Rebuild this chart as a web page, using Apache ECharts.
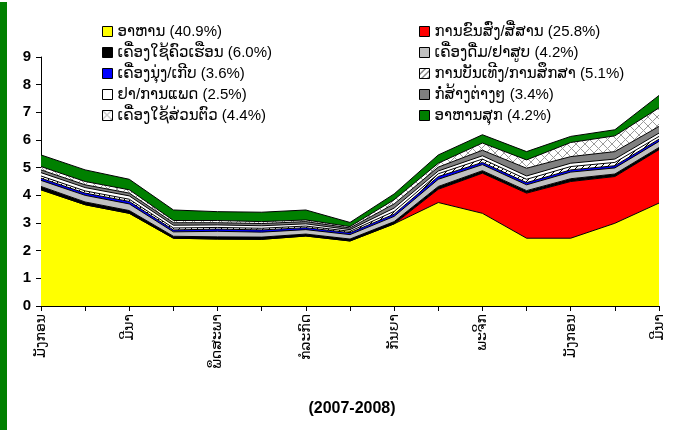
<!DOCTYPE html>
<html>
<head>
<meta charset="utf-8">
<script src="https://cdn.jsdelivr.net/npm/echarts@6/dist/echarts.min.js"></script>
<style>
html,body{margin:0;padding:0;background:#fff;}
#c{width:691px;height:433px;}
</style>
</head>
<body>
<div id="c"></div>
<script>
const months = ['ມັງກອນ','ກຸມພາ','ມີນາ','ເມສາ','ພຶດສະພາ','ມິຖຸນາ','ກໍລະກົດ','ສິງຫາ','ກັນຍາ','ຕຸລາ','ພະຈິກ','ທັນວາ','ມັງກອນ','ກຸມພາ','ມີນາ'];
const seriesNames = ['ອາຫານ (40.9%)','ການຂົນສົ່ງ/ສື່ສານ (25.8%)','ເຄື່ອງໃຊ້ຄົວເຮືອນ (6.0%)','ເຄື່ອງດື່ມ/ຢາສູບ (4.2%)','ເຄື່ອງນຸ່ງ/ເກີບ (3.6%)','ການບັນເທີງ/ການສຶກສາ (5.1%)','ຢາ/ການແພດ (2.5%)','ກໍ່ສ້າງຕ່າງໆ (3.4%)','ເຄື່ອງໃຊ້ສ່ວນຕົວ (4.4%)','ອາຫານສຸກ (4.2%)'];
const food          = [4.20,3.66,3.35,2.45,2.42,2.41,2.53,2.35,2.97,3.74,3.35,2.45,2.45,2.99,3.72];
const transport     = [0,0,0,0,0,0,0,0,0,0.48,1.45,1.63,2.05,1.69,1.93];
const household     = [0.12,0.10,0.10,0.07,0.08,0.08,0.07,0.07,0.08,0.10,0.09,0.09,0.10,0.09,0.08];
const drinks        = [0.22,0.24,0.24,0.16,0.20,0.18,0.16,0.16,0.19,0.26,0.22,0.21,0.24,0.22,0.22];
const clothes       = [0.08,0.08,0.09,0.07,0.08,0.08,0.07,0.07,0.08,0.10,0.08,0.08,0.08,0.08,0.08];
const entertainment = [0.08,0.08,0.08,0.07,0.06,0.06,0.06,0.05,0.10,0.10,0.12,0.12,0.12,0.12,0.10];
const medical       = [0.12,0.12,0.12,0.10,0.09,0.09,0.08,0.06,0.12,0.10,0.12,0.12,0.12,0.12,0.12];
const construction  = [0.10,0.10,0.10,0.09,0.08,0.08,0.08,0.06,0.15,0.14,0.20,0.28,0.24,0.27,0.24];
const personal      = [0.12,0.12,0.12,0.08,0.08,0.07,0.06,0.05,0.15,0.14,0.26,0.30,0.51,0.57,0.67];
const cooked        = [0.42,0.42,0.38,0.38,0.32,0.34,0.36,0.15,0.21,0.30,0.30,0.30,0.22,0.22,0.45];
const yTicks = [0,1,2,3,4,5,6,7,8,9];
const title = '(2007-2008)';

const allData = [food,transport,household,drinks,clothes,entertainment,medical,construction,personal,cooked];

function makePattern(kind){
  const c = document.createElement('canvas');
  const s = kind === 'cross' ? 9 : 6;
  c.width = s; c.height = s;
  const g = c.getContext('2d');
  g.fillStyle = '#ffffff'; g.fillRect(0,0,s,s);
  g.lineWidth = 1;
  if (kind === 'cross') {
    g.strokeStyle = '#9a9a9a';
    g.beginPath(); g.moveTo(0,0); g.lineTo(s,s); g.moveTo(0,s); g.lineTo(s,0); g.stroke();
  } else {
    g.strokeStyle = '#000000';
    g.beginPath(); g.moveTo(0,s); g.lineTo(s,0); g.moveTo(-1,1); g.lineTo(1,-1); g.moveTo(s-1,s+1); g.lineTo(s+1,s-1); g.stroke();
  }
  return c;
}
const hatchFill = {image: makePattern('hatch'), repeat: 'repeat'};
const crossFill = {image: makePattern('cross'), repeat: 'repeat'};
const fills = ['#FFFF00','#FF0000','#000000','#C0C0C0','#0000FF',hatchFill,'#FFFFFF','#808080',crossFill,'#008000'];

const FONT = "'Liberation Sans','DejaVu Sans',Arial,sans-serif";

const series = allData.map((d,i)=>({
  name: seriesNames[i],
  type: 'line',
  stack: 'total',
  data: d,
  symbol: 'none',
  showSymbol: false,
  lineStyle: {color:'#000', width:1},
  itemStyle: {color: fills[i], borderColor:'#000', borderWidth:1},
  areaStyle: {color: fills[i], opacity: 1},
  z: 2
}));

const legendCommon = {
  orient: 'vertical',
  icon: 'rect',
  itemWidth: 10,
  itemHeight: 10,
  itemGap: 4,
  itemStyle: {borderColor:'#000', borderWidth:1},
  textStyle: {fontFamily: FONT, fontSize: 15, color:'#000', lineHeight: 17, padding:[0,0,0,0]},
  padding: 0,
  selectedMode: false
};

const chart = echarts.init(document.getElementById('c'), null, {renderer:'canvas'});
chart.setOption({
  animation: false,
  backgroundColor: '#fff',
  grid: {left: 41, right: 32, top: 57, bottom: 127, containLabel: false},
  legend: [
    Object.assign({}, legendCommon, {left: 102, top: 23, data: [seriesNames[0],seriesNames[2],seriesNames[4],seriesNames[6],seriesNames[8]]}),
    Object.assign({}, legendCommon, {left: 419, top: 23, data: [seriesNames[1],seriesNames[3],seriesNames[5],seriesNames[7],seriesNames[9]]})
  ],
  xAxis: {
    type: 'category',
    data: months,
    boundaryGap: false,
    axisLine: {lineStyle:{color:'#000', width:1}},
    axisTick: {show:true, interval:0, length:5, lineStyle:{color:'#000'}},
    axisLabel: {interval:1, rotate:90, fontFamily: FONT, fontSize: 14, color:'#000', margin: 8},
    splitLine: {show:false}
  },
  yAxis: {
    type: 'value',
    min: 0, max: 9, interval: 1,
    axisLine: {show:true, lineStyle:{color:'#000', width:1}},
    axisTick: {show:true, length:5, lineStyle:{color:'#000'}},
    axisLabel: {fontFamily: FONT, fontSize: 15, fontWeight:'bold', color:'#000', margin: 10,
      formatter: v => yTicks.includes(v) ? String(v) : ''},
    splitLine: {show:false}
  },
  graphic: [
    {type:'rect', left:0, top:2, shape:{width:7, height:428}, style:{fill:'#008000'}, z:10},
    {type:'text', x:352, y:409, style:{text:title, font:'bold 16px '+FONT, fill:'#000', align:'center', verticalAlign:'middle'}, z:10}
  ],
  series: series
});
</script>
</body>
</html>
